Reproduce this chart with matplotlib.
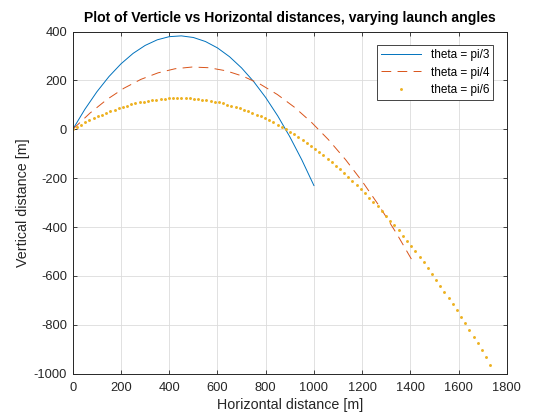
import numpy as np
import matplotlib
matplotlib.use('Agg')
import matplotlib.pyplot as plt

plt.rcParams['font.family'] = ['Liberation Sans', 'DejaVu Sans']
plt.rcParams['axes.unicode_minus'] = False

# theta = pi/3
x3 = [0, 50, 100, 150, 200, 250, 300, 350, 400, 450, 500, 550, 600, 650, 700, 750, 800, 850, 900, 950, 1000]
y3 = [0, 81.7, 153.6, 215.7, 267.9, 310.4, 343.0, 365.9, 378.9, 382.1, 375.5, 359.1, 332.9, 296.9, 251.0,
      195.4, 129.9, 54.7, -30.4, -125.3, -230.0]

# theta = pi/4, dashed curve
x4 = [0, 70.7, 141.4, 212.1, 282.8, 353.6, 424.3, 495.0, 565.7, 636.4, 707.1, 777.8, 848.5, 919.2, 989.9,
      1060.7, 1131.4, 1202.1, 1272.8, 1343.5, 1414.2]
y4 = [0, 65.8, 121.8, 168.0, 204.4, 230.9, 247.7, 254.7, 251.8, 239.1, 216.6, 184.3, 142.2, 90.3, 28.5,
      -42.9, -124.3, -215.4, -316.4, -427.2, -547.8]

# theta = pi/6, dotted points
x6 = [0, 17, 35, 52, 69, 87, 104, 121, 139, 156, 173, 191, 208, 225, 242, 260, 277, 294, 312, 329,
      346, 364, 381, 398, 416, 433, 450, 468, 485, 502, 520, 537, 554, 572, 589, 606, 624, 641, 658, 675,
      693, 710, 727, 745, 762, 779, 797, 814, 831, 849, 866, 883, 901, 918, 935, 953, 970, 987, 1005, 1022,
      1039, 1057, 1074, 1091, 1108, 1126, 1143, 1160, 1178, 1195, 1212, 1230, 1247, 1264, 1282, 1299, 1316,
      1334, 1351, 1368, 1386, 1403, 1420, 1438, 1455, 1472, 1490, 1507, 1524, 1541, 1559, 1576, 1593, 1611,
      1628, 1645, 1663, 1680, 1697, 1715, 1732]
y6 = [0, 9.8, 19.2, 28.2, 36.9, 45.1, 52.9, 60.4, 67.4, 74.1, 80.4, 86.3, 91.7, 96.8, 101.5, 105.9, 109.8,
      113.3, 116.4, 119.2, 121.5, 123.5, 125.0, 126.2, 127.0, 127.4, 127.4, 127.0, 126.2, 125.0, 123.4, 121.4,
      119.1, 116.3, 113.2, 109.7, 105.7, 101.4, 96.7, 91.6, 86.1, 80.2, 73.9, 67.2, 60.2, 52.7, 44.8, 36.6,
      28.0, 18.9, 9.5, -0.3, -10.5, -21.1, -32.1, -43.5, -55.3, -67.5, -80.0, -93.0, -106.3, -120.1, -134.2,
      -148.7, -163.6, -179.0, -194.6, -210.7, -227.2, -244.1, -261.4, -279.0, -297.1, -315.6, -334.4, -353.6,
      -373.2, -393.3, -413.7, -434.5, -455.7, -477.3, -499.2, -521.6, -544.4, -567.5, -591.1, -615.0, -639.4,
      -664.1, -689.2, -714.7, -740.6, -766.9, -793.6, -820.7, -848.2, -876.0, -904.3, -933.0, -962.0]

labels = ['theta = pi/3', 'theta = pi/4', 'theta = pi/6']

fig = plt.figure(figsize=(5.6, 4.2), dpi=100)
ax = fig.add_axes([0.13, 0.11, 0.775, 0.815])

ax.plot(x3, y3, color='#0072BD', lw=0.7, label=labels[0])
ax.plot(x4, y4, color='#D95319', lw=0.7, dashes=(10, 6.5), label=labels[1])
ax.plot(x6, y6, 'o', color='#EDB120', ms=2.1, mew=0, label=labels[2])

ax.set_xlim(0, 1800)
ax.set_ylim(-1000, 400)
ax.set_xticks(np.arange(0, 1801, 200))
ax.set_yticks(np.arange(-1000, 401, 200))
ax.grid(True, color='#dcdcdc', lw=0.6)
ax.set_axisbelow(True)
ax.tick_params(direction='in', length=3, width=0.6, top=True, right=True, labelsize=9.3,
               colors='#262626')
ax.tick_params(axis='x', pad=6)
ax.tick_params(axis='y', pad=4)
for s in ax.spines.values():
    s.set_color('#262626')
    s.set_linewidth(0.7)

ax.set_xlabel('Horizontal distance [m]', fontsize=10.3, color='#262626', labelpad=3)
ax.set_ylabel('Vertical distance [m]', fontsize=10.3, color='#262626', labelpad=3)
ax.set_title('Plot of Verticle vs Horizontal distances, varying launch angles', fontsize=10.1,
             fontweight='bold', pad=7)

leg = ax.legend(loc='upper right', fontsize=8.5, fancybox=False, framealpha=1, edgecolor='#262626',
                borderaxespad=1.15, handlelength=3.4, borderpad=0.35, labelspacing=0.45)
leg.get_frame().set_linewidth(0.6)

fig.savefig('out.png', dpi=100)
